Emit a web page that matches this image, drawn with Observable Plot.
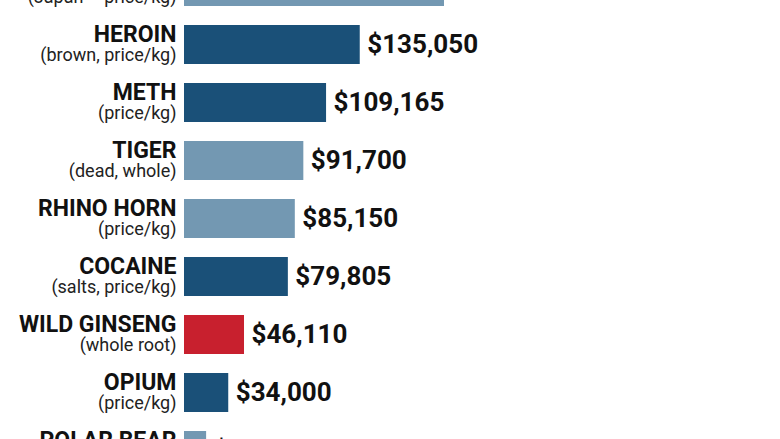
<!DOCTYPE html>
<html>
<head>
<meta charset="utf-8">
<script src="https://cdn.jsdelivr.net/npm/d3@7"></script>
<script src="https://cdn.jsdelivr.net/npm/@observablehq/plot@0.6"></script>
<style>
  html, body { margin: 0; padding: 0; background: #fff; overflow: hidden; width: 780px; height: 439px; }
  #chart { position: absolute; left: 0; top: -55px; }
</style>
</head>
<body>
<div id="chart"></div>
<script>
// Data (top row and bottom row are cut off by the frame)
const names  = ["", "HEROIN", "METH", "TIGER", "RHINO HORN", "COCAINE", "WILD GINSENG", "OPIUM", "POLAR BEAR"];
const notes  = ["(Japan – price/kg)", "(brown, price/kg)", "(price/kg)", "(dead, whole)", "(price/kg)", "(salts, price/kg)", "(whole root)", "(price/kg)", ""];
const values = [199800, 135050, 109165, 91700, 85150, 79805, 46110, 34000, 17000];
const groups = ["wildlife", "drug", "drug", "wildlife", "wildlife", "drug", "plant", "drug", "wildlife"];
const groupDomain = ["wildlife", "drug", "plant"];
const groupColors = ["#7398b2", "#1a5078", "#c8202e"];

const data = names.map((n, i) => ({key: String(i), name: n, note: notes[i], value: values[i], group: groups[i]}));
const fmt = d3.format(",");

const chart = Plot.plot({
  width: 780,
  height: 547,
  marginLeft: 184,
  marginRight: 0,
  marginTop: 0,
  marginBottom: 0,
  x: {domain: [0, 458000], axis: null},
  y: {domain: data.map(d => d.key), padding: 0.335, axis: null},
  color: {domain: groupDomain, range: groupColors},
  style: {fontFamily: "Roboto, 'DejaVu Sans', sans-serif", background: "white", overflow: "visible"},
  marks: [
    Plot.barX(data, {x: "value", y: "key", fill: "group"}),
    Plot.text(data, {x: 0, y: "key", text: "name", textAnchor: "end", dx: -8, dy: -3.5, lineAnchor: "bottom", fontSize: 23, fontWeight: 700, fill: "#111"}),
    Plot.text(data, {x: 0, y: "key", text: "note", textAnchor: "end", dx: -8, dy: 15.5, lineAnchor: "bottom", fontSize: 18, fill: "#222"}),
    Plot.text(data, {x: "value", y: "key", text: d => "$" + fmt(d.value), textAnchor: "start", dx: 7, fontSize: 26, fontWeight: 700, fill: "#111"})
  ]
});
document.getElementById("chart").appendChild(chart);
</script>
</body>
</html>
